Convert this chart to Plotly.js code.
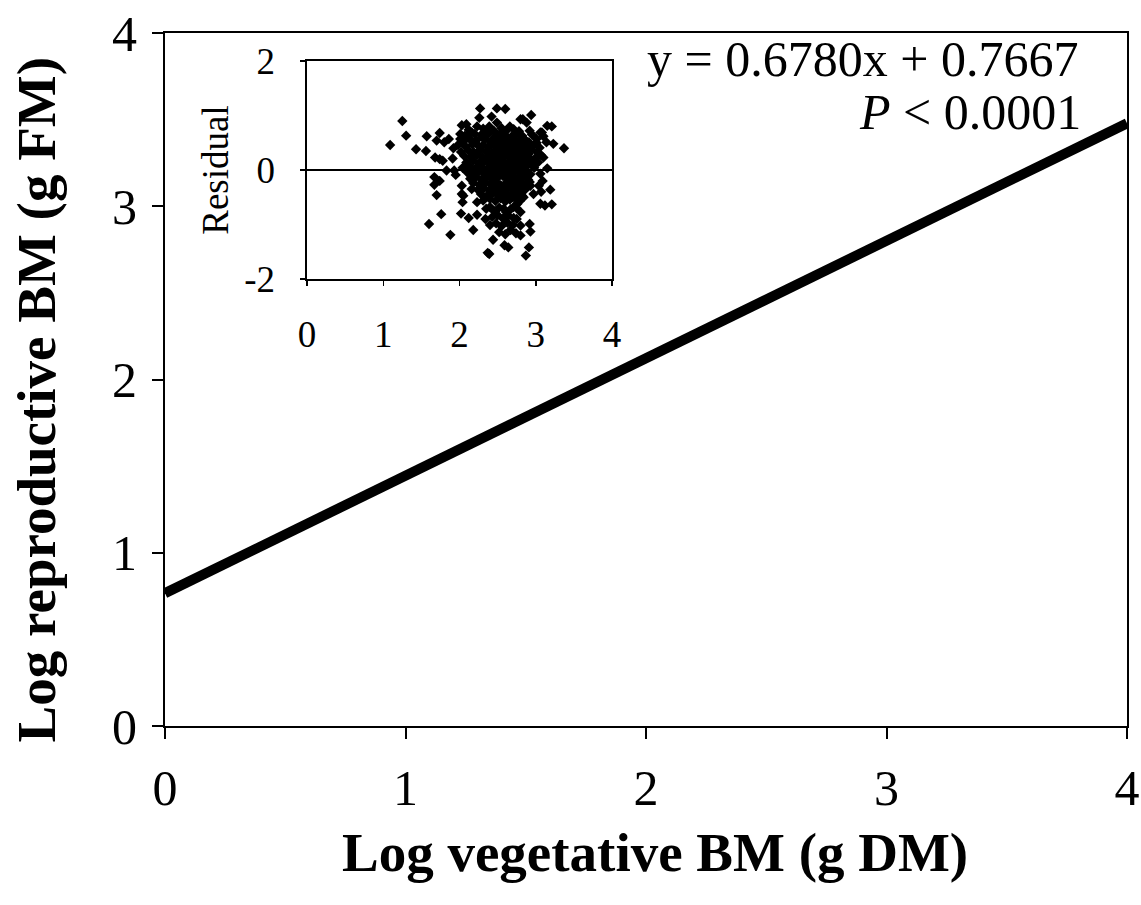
<!DOCTYPE html>
<html>
<head>
<meta charset="utf-8">
<script src="https://cdn.plot.ly/plotly-3.0.1.min.js"></script>
<style>html,body{margin:0;padding:0;background:#fff;}#chart{width:1141px;height:905px;}</style>
</head>
<body>
<div id="chart"></div>
<script>
// Regression line (main panel) from equation y = 0.6780x + 0.7667
var lineX = [0, 4];
var lineY = [0.7667, 3.4787];

// Inset residuals
var residX = [
1.09,1.25,1.30,1.43,1.57,1.56,1.74,1.70,1.80,1.86,1.68,1.74,1.78,1.91,1.83,1.93,1.95,1.67,1.74,1.67,
1.70,1.76,1.60,1.88,2.02,2.03,2.04,2.12,2.18,2.23,2.34,2.40,2.44,2.37,2.39,2.59,2.64,2.67,2.80,2.87,
2.91,2.92,2.93,2.80,2.75,3.06,3.12,3.21,3.07,3.19,3.09,3.06,3.15,3.10,3.23,3.37,3.14,3.10,3.15,3.21,
3.06,2.94,2.80,2.88,2.92,3.01,2.27,2.49,2.60,2.26,2.42,2.03,2.09,2.23,2.39,2.49,2.66,2.01,2.07,1.92,
2.01,2.16,2.30,2.03,2.05,2.16,2.23,2.40,2.58,2.71,2.80,2.84,2.93,2.97,3.04,3.08,3.01,2.95,2.83,
2.12,2.31,2.45,2.55,2.62,2.71,2.78,2.36,
2.10,2.20,2.28,2.38,2.47,2.53,2.60,2.68,2.74,2.82,2.95,
2.05,2.14,2.22,2.33,2.41,2.49,2.57,2.63,2.70,2.77,2.86,2.91,
1.98,2.08,2.17,2.25,2.31,2.38,2.44,2.52,2.58,2.65,2.72,2.79,2.85,2.97,3.05,
2.02,2.12,2.19,2.27,2.35,2.42,2.48,2.55,2.61,2.68,2.74,2.81,2.88,2.93,3.02,
2.06,2.15,2.23,2.30,2.37,2.44,2.51,2.57,2.64,2.70,2.77,2.84,2.90,2.99,3.07,
2.09,2.18,2.26,2.33,2.40,2.47,2.54,2.60,2.67,2.73,2.80,2.87,2.94,3.03,
2.04,2.13,2.21,2.28,2.36,2.43,2.50,2.56,2.63,2.69,2.76,2.83,2.89,2.98,
2.10,2.17,2.25,2.32,2.39,2.46,2.53,2.59,2.66,2.72,2.79,2.86,2.93,
2.14,2.22,2.29,2.36,2.43,2.50,2.57,2.63,2.70,2.76,2.83,2.90,
2.18,2.26,2.34,2.41,2.48,2.54,2.61,2.67,2.74,2.81,2.88,
2.24,2.32,2.39,2.46,2.52,2.59,2.65,2.72,2.79,2.86,
2.28,2.36,2.43,2.50,2.56,2.62,2.69,2.76,2.82,
2.31,2.40,2.47,2.54,2.60,2.66,2.73,2.79,
2.35,2.45,2.52,2.61,2.67,2.75,
2.43,2.50,2.57,2.64,2.71,
2.48,2.55,2.63,2.70,
2.52,2.60,2.74,
2.41,2.49,2.56,2.62,2.69,2.53,2.45,2.58,2.66,2.74,2.47,2.60,2.71,2.39,2.52,2.64,2.78,2.35,2.58,2.70,
2.84,2.91,2.87,2.96,2.82,2.89,2.78,2.85,2.92,2.76
];
var residY = [
0.46,0.90,0.63,0.38,0.62,0.35,0.68,0.54,0.51,0.57,0.23,0.20,0.17,0.21,-0.01,-0.01,-0.09,-0.13,-0.20,-0.27,
-0.46,-0.81,-0.99,-1.19,-0.80,-0.44,-0.59,-0.88,-1.10,-0.82,-0.90,-1.01,-1.28,-1.52,-1.54,-1.38,-1.42,-1.10,-1.20,-1.57,
-1.42,-0.99,-1.13,-1.02,-0.90,-0.62,-0.65,-0.63,-0.40,-0.36,-0.20,-0.07,0.03,0.23,0.48,0.40,0.51,0.62,0.81,0.80,
0.69,1.01,0.93,0.87,0.72,0.57,1.13,1.13,1.12,0.96,0.98,0.82,0.84,0.80,0.80,0.87,0.80,0.66,0.63,0.40,
0.57,0.69,0.60,-0.29,-0.47,-0.35,-0.59,-0.68,-0.71,-0.68,-0.77,-0.50,-0.29,-0.44,-0.29,0.69,0.50,0.44,0.93,
0.74,0.76,0.72,0.77,0.73,0.75,0.71,0.70,
0.63,0.66,0.64,0.67,0.62,0.66,0.64,0.61,0.66,0.63,0.65,
0.52,0.56,0.54,0.57,0.53,0.55,0.58,0.52,0.56,0.53,0.55,0.51,
0.46,0.43,0.47,0.44,0.46,0.42,0.48,0.45,0.41,0.47,0.43,0.46,0.42,0.45,0.41,
0.33,0.36,0.32,0.37,0.34,0.31,0.37,0.33,0.36,0.32,0.38,0.34,0.31,0.37,0.33,
0.26,0.23,0.27,0.24,0.22,0.28,0.25,0.21,0.26,0.23,0.27,0.22,0.25,0.21,0.27,
0.14,0.17,0.13,0.16,0.12,0.18,0.14,0.11,0.17,0.13,0.16,0.12,0.18,0.14,
0.04,0.07,0.03,0.06,0.02,0.08,0.05,0.01,0.07,0.03,0.06,0.02,0.08,0.04,
-0.04,-0.07,-0.03,-0.06,-0.02,-0.08,-0.05,-0.01,-0.07,-0.03,-0.06,-0.02,-0.08,
-0.16,-0.13,-0.17,-0.12,-0.18,-0.14,-0.11,-0.17,-0.13,-0.16,-0.12,-0.18,
-0.24,-0.27,-0.23,-0.26,-0.22,-0.28,-0.24,-0.21,-0.27,-0.23,-0.26,
-0.36,-0.33,-0.37,-0.32,-0.38,-0.34,-0.31,-0.37,-0.33,-0.36,
-0.44,-0.47,-0.43,-0.46,-0.42,-0.48,-0.44,-0.41,-0.47,
-0.56,-0.53,-0.57,-0.52,-0.58,-0.54,-0.51,-0.57,
-0.71,-0.75,-0.69,-0.77,-0.72,-0.70,
-0.86,-0.83,-0.89,-0.84,-0.88,
-0.98,-1.03,-0.97,-1.01,
-1.14,-1.18,-1.16,
0.50,0.40,0.49,0.29,0.50,0.19,0.01,-0.09,0.09,-0.20,-0.30,-0.40,0.39,0.19,0.60,-0.27,0.10,-0.10,0.69,-0.50,
0.58,0.30,-0.10,0.10,-0.40,-0.30,0.20,0.48,-0.22,-0.62
];

var mainTicks = [0, 1, 2, 3, 4];
var mainTickText = ['0', '1', '2', '3', '4'];
var insetYTicks = [-2, 0, 2];
var insetYTickText = ['-2', '0', '2'];

var eqText = 'y = 0.6780x + 0.7667';
var pText = '<i>P</i> &lt; 0.0001';
var xTitle = '<b>Log vegetative BM (g DM)</b>';
var yTitle = '<b>Log reproductive BM (g FM)</b>';
var insetYTitle = 'Residual';

var FONT = 'Liberation Serif, Times New Roman, serif';

var traces = [
  {
    x: lineX, y: lineY, type: 'scatter', mode: 'lines',
    line: {color: '#000', width: 10},
    xaxis: 'x', yaxis: 'y', hoverinfo: 'skip'
  },
  {
    x: residX, y: residY, type: 'scatter', mode: 'markers',
    marker: {symbol: 'diamond', size: 8, color: '#000'},
    xaxis: 'x2', yaxis: 'y2'
  }
];

var layout = {
  width: 1141, height: 905,
  margin: {l: 165, r: 14, t: 33, b: 179},
  paper_bgcolor: '#fff', plot_bgcolor: '#fff',
  showlegend: false,
  font: {family: FONT, color: '#000'},
  xaxis: {
    domain: [0, 1], anchor: 'y', range: [0, 4],
    tickmode: 'array', tickvals: mainTicks, ticktext: mainTickText,
    showline: true, linewidth: 2, linecolor: '#000', mirror: true,
    ticks: 'outside', ticklen: 11, tickwidth: 2, tickcolor: '#000',
    ticklabelstandoff: 6,
    tickfont: {size: 50, family: FONT}, showgrid: false, zeroline: false
  },
  yaxis: {
    domain: [0, 1], anchor: 'x', range: [0, 4],
    tickmode: 'array', tickvals: mainTicks, ticktext: mainTickText,
    showline: true, linewidth: 2, linecolor: '#000', mirror: true,
    ticks: 'outside', ticklen: 11, tickwidth: 2, tickcolor: '#000',
    ticklabelstandoff: 5,
    tickfont: {size: 50, family: FONT}, showgrid: false, zeroline: false
  },
  xaxis2: {
    domain: [0.1476, 0.4647], anchor: 'y2', range: [0, 4],
    tickmode: 'array', tickvals: mainTicks, ticktext: mainTickText,
    showline: true, linewidth: 1.5, linecolor: '#000', mirror: true,
    ticks: 'outside', ticklen: 5, tickwidth: 1.5, tickcolor: '#000',
    ticklabelstandoff: 17,
    tickfont: {size: 37, family: FONT}, showgrid: false, zeroline: false
  },
  yaxis2: {
    domain: [0.645, 0.9596], anchor: 'x2', range: [-2, 2],
    tickmode: 'array', tickvals: insetYTicks, ticktext: insetYTickText,
    showline: true, linewidth: 1.5, linecolor: '#000', mirror: true,
    ticks: 'outside', ticklen: 5, tickwidth: 1.5, tickcolor: '#000',
    ticklabelstandoff: 18,
    tickfont: {size: 37, family: FONT}, showgrid: false,
    zeroline: true, zerolinecolor: '#000', zerolinewidth: 1.5,
    title: {text: insetYTitle, font: {size: 37, family: FONT}, standoff: 4}
  },
  annotations: [
    {text: xTitle, xref: 'paper', yref: 'paper', x: 0.509, y: -0.183,
     xanchor: 'center', yanchor: 'middle', showarrow: false, font: {size: 55, family: FONT}},
    {text: yTitle, xref: 'paper', yref: 'paper', x: -0.134, y: 0.47, textangle: -90,
     xanchor: 'center', yanchor: 'middle', showarrow: false, font: {size: 55, family: FONT}},
    {text: eqText, xref: 'paper', yref: 'paper', x: 0.951, y: 0.9625,
     xanchor: 'right', yanchor: 'middle', showarrow: false, font: {size: 50, family: FONT}},
    {text: pText, xref: 'paper', yref: 'paper', x: 0.954, y: 0.886,
     xanchor: 'right', yanchor: 'middle', showarrow: false, font: {size: 50, family: FONT}}
  ]
};

Plotly.newPlot('chart', traces, layout, {staticPlot: true, displayModeBar: false});
</script>
</body>
</html>
